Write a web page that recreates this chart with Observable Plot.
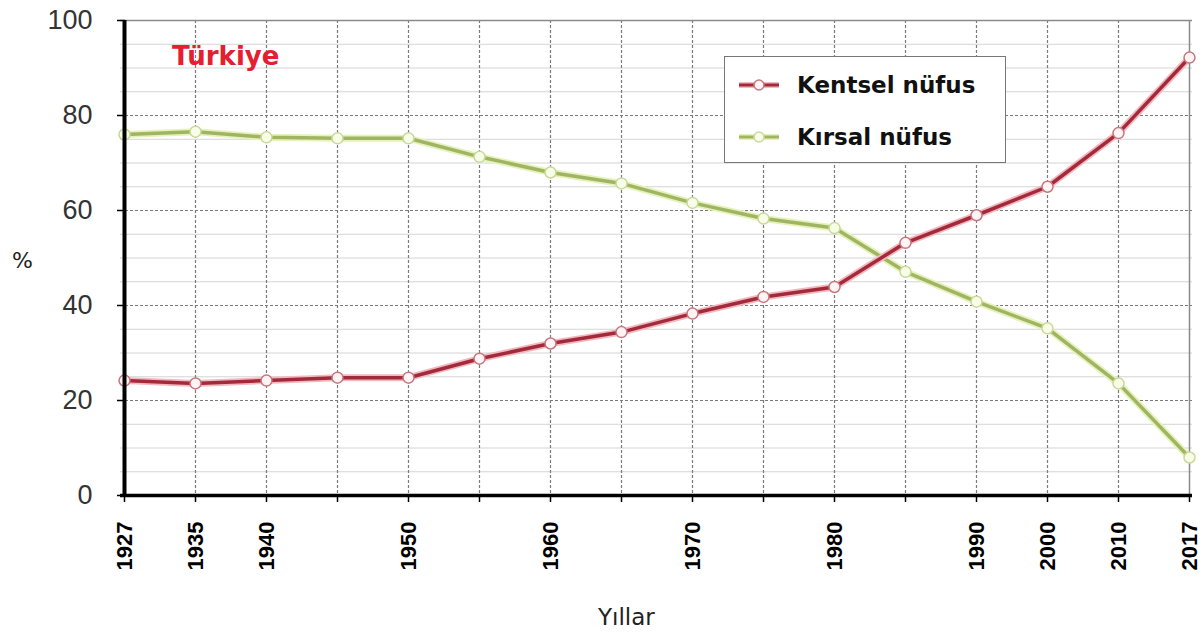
<!DOCTYPE html>
<html>
<head>
<meta charset="utf-8">
<script src="https://cdn.jsdelivr.net/npm/d3@7"></script>
<script src="https://cdn.jsdelivr.net/npm/@observablehq/plot@0.6"></script>
<style>
  html, body { margin: 0; padding: 0; background: #fff; }
  #wrap { position: relative; width: 1202px; height: 638px; overflow: hidden; }
  .lbl { position: absolute; white-space: nowrap; line-height: 1; }
  #legend { position: absolute; left: 724px; top: 56px; width: 282px; height: 107px;
            border: 1.5px solid #777; background: #fff; box-sizing: border-box; }
  .leg { position: absolute; left: 0; display: flex; align-items: center; }
  .leg span { font-family: "DejaVu Sans", sans-serif; font-weight: bold; font-size: 23px; color: #111; margin-left: 18px; }
</style>
</head>
<body>
<div id="wrap"></div>
<script>
const years = ["1927","1935","1940","1945","1950","1955","1960","1965","1970","1975","1980","1985","1990","2000","2010","2017"];
const labeledYears = ["1927","1935","1940","1950","1960","1970","1980","1990","2000","2010","2017"];
const kentsel = [24.2, 23.6, 24.2, 24.8, 24.8, 28.8, 32.0, 34.4, 38.3, 41.8, 43.9, 53.2, 59.0, 65.0, 76.3, 92.2];
const kirsal  = [76.0, 76.6, 75.4, 75.2, 75.2, 71.3, 68.0, 65.7, 61.6, 58.3, 56.3, 47.1, 40.8, 35.2, 23.6, 8.0];
const yTicks = [0, 20, 40, 60, 80, 100];
const minorY = [5,10,15,25,30,35,45,50,55,65,70,75,85,90,95];
const majorY = [20,40,60,80];
const seriesNames = ["Kentsel nüfus", "Kırsal nüfus"];

const urban = years.map((y, i) => ({year: y, value: kentsel[i]}));
const rural = years.map((y, i) => ({year: y, value: kirsal[i]}));

const redMain = "#a32a3a", redHalo = "#f2b8c0", redDotFill = "#fff3f3", redDotStroke = "#c87680";
const grnMain = "#9fb563", grnHalo = "#e6f2b8", grnDotFill = "#f8fde8", grnDotStroke = "#c9d99a";

const chart = Plot.plot({
  width: 1202,
  height: 638,
  marginLeft: 120,
  marginRight: 10,
  marginTop: 20,
  marginBottom: 143,
  style: {background: "transparent", color: "#000"},
  x: {type: "point", domain: years, padding: 0},
  y: {domain: [0, 100]},
  marks: [
    Plot.ruleY(minorY, {stroke: "#d4d4d4", strokeWidth: 1}),
    Plot.ruleY(majorY, {stroke: "#7a7a7a", strokeWidth: 1.2, strokeDasharray: "3,2"}),
    Plot.ruleX(years.slice(1, -1), {stroke: "#7a7a7a", strokeWidth: 1.2, strokeDasharray: "3,2"}),
    Plot.ruleY([100], {stroke: "#8a8a8a", strokeWidth: 1.5}),
    Plot.ruleX([years[years.length - 1]], {stroke: "#8a8a8a", strokeWidth: 1.5}),
    Plot.axisY({ticks: yTicks, tickSize: 8, tickPadding: 25, dx: 5, fontSize: 27, fill: "#333",
                fontFamily: "Liberation Sans, Arial, sans-serif", label: null, stroke: "#000", strokeWidth: 1.5}),
    Plot.axisX({ticks: years, tickSize: 7, tickPadding: 19, tickRotate: -90, fontSize: 22,
                fontWeight: "bold", fontFamily: "Liberation Sans, Arial, sans-serif", label: null,
                tickFormat: d => labeledYears.includes(d) ? d : "", stroke: "#000", strokeWidth: 1.5}),
    Plot.line(rural, {x: "year", y: "value", stroke: grnHalo, strokeWidth: 7}),
    Plot.line(rural, {x: "year", y: "value", stroke: grnMain, strokeWidth: 3.5}),
    Plot.line(urban, {x: "year", y: "value", stroke: redHalo, strokeWidth: 7}),
    Plot.line(urban, {x: "year", y: "value", stroke: redMain, strokeWidth: 3.5}),
    Plot.dot(rural, {x: "year", y: "value", r: 5.5, fill: grnDotFill, stroke: grnDotStroke, strokeWidth: 1.5}),
    Plot.dot(urban, {x: "year", y: "value", r: 5.5, fill: redDotFill, stroke: redDotStroke, strokeWidth: 1.5}),
    Plot.ruleY([0], {stroke: "#000", strokeWidth: 3.5}),
    Plot.ruleX([years[0]], {stroke: "#000", strokeWidth: 4})
  ]
});

const wrap = document.getElementById("wrap");
wrap.appendChild(chart);

function addLabel(text, css) {
  const d = document.createElement("div");
  d.className = "lbl";
  d.textContent = text;
  Object.assign(d.style, css);
  wrap.appendChild(d);
}
addLabel("Türkiye", {left: "172px", top: "43px", fontFamily: "DejaVu Sans, sans-serif", fontWeight: "bold", fontSize: "26px", color: "#e3202f"});
addLabel("%", {left: "12px", top: "250px", fontFamily: "DejaVu Sans, sans-serif", fontSize: "22px", color: "#222"});
addLabel("Yıllar", {left: "598px", top: "606px", fontFamily: "DejaVu Sans, sans-serif", fontSize: "23px", color: "#222"});

const legend = document.createElement("div");
legend.id = "legend";
const legItems = [
  {name: seriesNames[0], main: redMain, halo: redHalo, fill: redDotFill, stroke: redDotStroke, top: 15},
  {name: seriesNames[1], main: grnMain, halo: grnHalo, fill: grnDotFill, stroke: grnDotStroke, top: 67}
];
legItems.forEach(it => {
  const row = document.createElement("div");
  row.className = "leg";
  row.style.top = it.top + "px";
  row.innerHTML = `<svg width="60" height="24" style="margin-left:12px">
      <line x1="2" x2="42" y1="12" y2="12" stroke="${it.halo}" stroke-width="6"/>
      <line x1="2" x2="42" y1="12" y2="12" stroke="${it.main}" stroke-width="3"/>
      <circle cx="22" cy="12" r="5" fill="${it.fill}" stroke="${it.stroke}" stroke-width="1.5"/>
    </svg><span>${it.name}</span>`;
  row.querySelector("svg").style.marginRight = "-18px";
  legend.appendChild(row);
});
wrap.appendChild(legend);
</script>
</body>
</html>
